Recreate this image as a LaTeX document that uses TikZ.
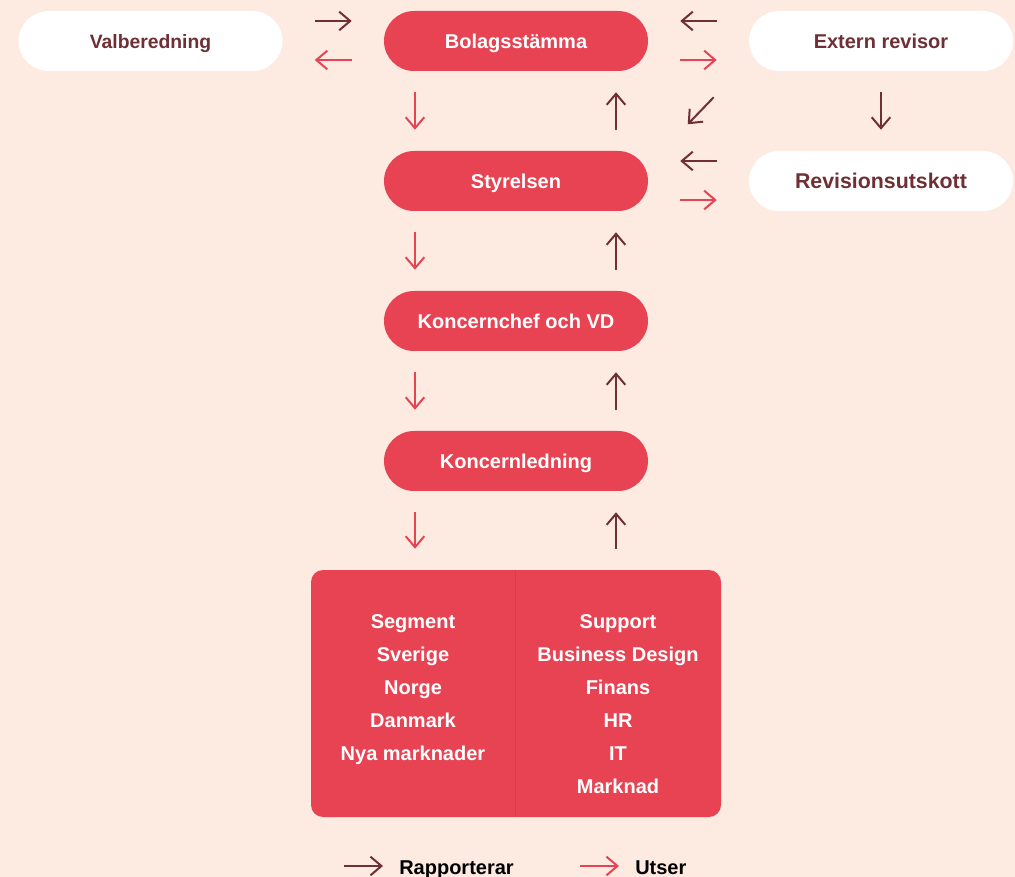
\documentclass[tikz,border=0pt]{standalone}
\usepackage{fontspec}
\setmainfont{Liberation Sans}
\usetikzlibrary{arrows.meta,calc}
\definecolor{bg}{HTML}{FDEAE1}
\definecolor{rd}{HTML}{E84353}
\definecolor{dk}{HTML}{6E2F35}
\definecolor{divline}{HTML}{D93C4C}
\begin{document}
\begin{tikzpicture}[x=0.75pt,y=-0.75pt,
  pill/.style={rectangle, rounded corners=22.5pt, minimum width=198pt, minimum height=45pt, inner sep=0pt, text height=10.7pt, text depth=0pt, font=\fontsize{15}{18}\selectfont\bfseries},
  redpill/.style={pill, fill=rd, text=white},
  whitepill/.style={pill, fill=white, text=dk},
  arr/.style={line width=1.5pt, -{Straight Barb[length=8.25pt,width=14pt]}},
  rep/.style={arr, draw=dk},
  uts/.style={arr, draw=rd},
  hs/.style={shorten <=24pt, shorten >=24pt},
  vs/.style={shorten <=15.75pt, shorten >=15.75pt},
  boxtxt/.style={text=white, font=\fontsize{15}{18}\selectfont\bfseries, anchor=base, inner sep=0pt},
  legtxt/.style={text=black, font=\fontsize{15}{18}\selectfont\bfseries, anchor=base west, inner sep=0pt}]
\fill[bg] (0,0) rectangle (1015,877);
\useasboundingbox (0,0) rectangle (1015,877);

% nodes
\node[whitepill, font=\fontsize{14.5}{18}\selectfont\bfseries] (vb) at (150.5,41) {Valberedning};
\node[redpill] (bs) at (516,41) {Bolagsstämma};
\node[whitepill] (er) at (881,41) {Extern revisor};
\node[redpill] (st) at (516,181) {Styrelsen};
\node[whitepill, font=\fontsize{16}{18}\selectfont\bfseries, text height=11.4pt] (ru) at (881,181) {Revisionsutskott};
\node[redpill] (kc) at (516,321) {Koncernchef och VD};
\node[redpill] (kl) at (516,461) {Koncernledning};
\node[fill=rd, rounded corners=9pt, minimum width=307.5pt, minimum height=185.25pt, inner sep=0pt] (org) at (516,693.5) {};
\draw[divline, line width=0.75pt] ([xshift=-0.75pt]org.north) -- ([xshift=-0.75pt]org.south);

% box texts
\foreach \t [count=\i] in {Segment,Sverige,Norge,Danmark,Nya marknader}
  \node[boxtxt] (seg\i) at (413,595+33*\i) {\t};
\foreach \t [count=\i] in {Support,Business Design,Finans,HR,IT,Marknad}
  \node[boxtxt] (sup\i) at (618,595+33*\i) {\t};

% horizontal arrows
\draw[rep,hs] ([yshift=15pt]vb.east) -- ([yshift=15pt]bs.west);
\draw[uts,hs] ([yshift=-14.25pt]bs.west) -- ([yshift=-14.25pt]vb.east);
\draw[rep,hs] ([yshift=15pt]er.west) -- ([yshift=15pt]bs.east);
\draw[uts,hs] ([yshift=-14.25pt]bs.east) -- ([yshift=-14.25pt]er.west);
\draw[rep,hs] ([yshift=15pt]ru.west) -- ([yshift=15pt]st.east);
\draw[uts,hs] ([yshift=-14.25pt]st.east) -- ([yshift=-14.25pt]ru.west);

% vertical arrows
\draw[uts,vs] ([xshift=-75.75pt]bs.south) -- ([xshift=-75.75pt]st.north);
\draw[rep,vs] ([xshift=75pt]st.north) -- ([xshift=75pt]bs.south);
\draw[uts,vs] ([xshift=-75.75pt]st.south) -- ([xshift=-75.75pt]kc.north);
\draw[rep,vs] ([xshift=75pt]kc.north) -- ([xshift=75pt]st.south);
\draw[uts,vs] ([xshift=-75.75pt]kc.south) -- ([xshift=-75.75pt]kl.north);
\draw[rep,vs] ([xshift=75pt]kl.north) -- ([xshift=75pt]kc.south);
\draw[uts,vs] ([xshift=-75.75pt]kl.south) -- ([xshift=-75.75pt]org.north);
\draw[rep,vs] ([xshift=75pt]org.north) -- ([xshift=75pt]kl.south);
\draw[rep,vs] (er.south) -- (ru.north);

% diagonal arrow
\coordinate (d1) at ($(er.south west)+(-35,26)$);
\coordinate (d2) at ($(er.south west)+(-61,53)$);
\draw[rep] (d1) -- (d2);

% legend
\coordinate (l1a) at (344,866);
\coordinate (l1b) at (383,866);
\coordinate (l2a) at (580,866);
\coordinate (l2b) at (619,866);
\draw[rep] (l1a) -- (l1b);
\draw[uts] (l2a) -- (l2b);
\node[legtxt] (lrep) at (399,874) {Rapporterar};
\node[legtxt] (luts) at (635,874) {Utser};
\end{tikzpicture}
\end{document}
